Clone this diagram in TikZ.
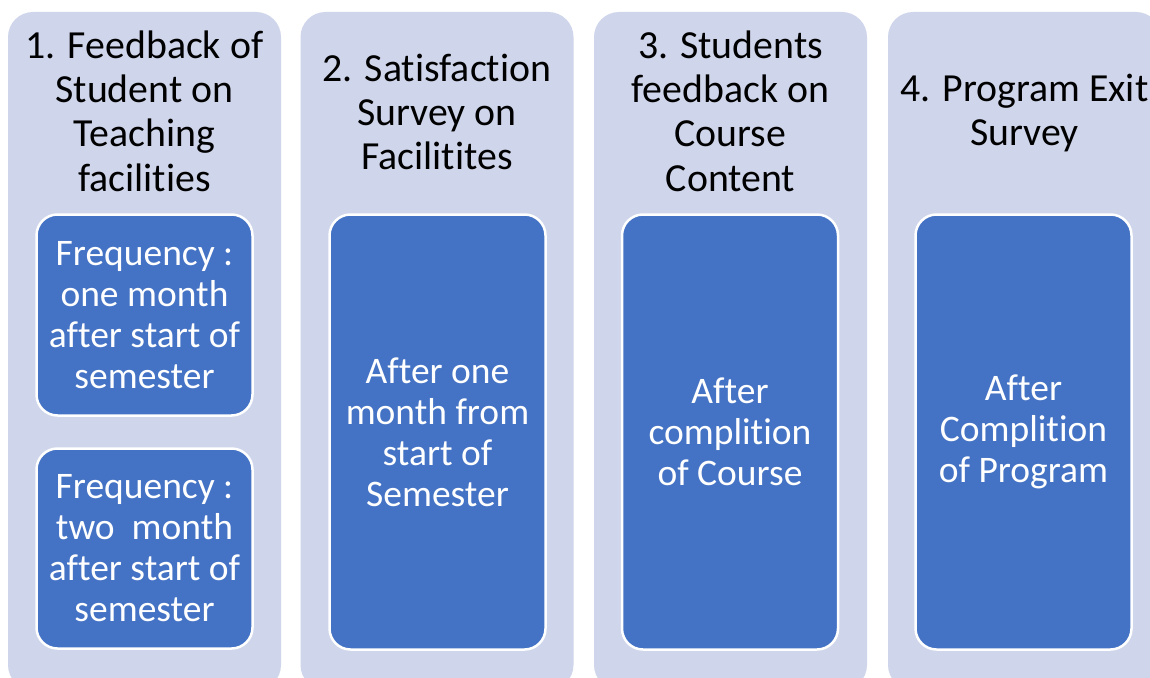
\documentclass[tikz,border=0pt]{standalone}
\usepackage{fontspec}
\setmainfont[Ligatures=NoCommon,RawFeature={-liga}]{Carlito}
\definecolor{lane}{HTML}{CFD5EA}
\definecolor{card}{HTML}{4472C4}
\tikzset{
  lanebox/.style={fill=lane, draw=none, rounded corners=25pt, minimum width=273pt,
    minimum height=678pt, inner sep=0pt, outer sep=0pt},
  cardbox/.style={fill=card, draw=white, line width=2.5pt, rounded corners=21pt,
    minimum width=216pt, inner sep=0pt, outer sep=0pt, text=white, align=center,
    font=\fontsize{37.5}{41}\selectfont},
  headtext/.style={align=center, inner sep=0pt, text=black,
    font=\fontsize{39.8}{44.3}\selectfont}
}
\begin{document}
\begin{tikzpicture}[x=1pt,y=-1pt]
\useasboundingbox (0,0) rectangle (1150,677);
\clip (0,0) rectangle (1150,677);
% four lanes
\node[lanebox] (lane1) at (144.5,351) {};
\node[lanebox] (lane2) at (437,351) {};
\node[lanebox] (lane3) at (730.5,351) {};
\node[lanebox] (lane4) at (1024.5,351) {};
% lane headings
\node[headtext] (head1) at (144.5,111) {1. Feedback of\\Student on\\Teaching\\facilities};
\node[headtext] (head2) at (437,112) {2. Satisfaction\\Survey on\\Facilitites};
\node[headtext] (head3) at (730.5,111) {3. Students\\feedback on\\Course\\Content};
\node[headtext] (head4) at (1024.5,113) {4. Program Exit\\Survey};
% cards
\node[cardbox, minimum height=201pt] (card1a) at (144.5,315) {Frequency :\\one month\\after start of\\semester};
\node[cardbox, minimum height=200pt] (card1b) at (144.5,548.5) {Frequency :\\two\ \ month\\after start of\\semester};
\node[cardbox, minimum height=435pt] (card2) at (437.5,432) {After one\\month from\\start of\\Semester};
\node[cardbox, minimum height=435pt] (card3) at (730,432) {After\\complition\\of Course};
\node[cardbox, minimum height=435pt] (card4) at (1023.5,432) {After\\Complition\\of Program};
\end{tikzpicture}
\end{document}
